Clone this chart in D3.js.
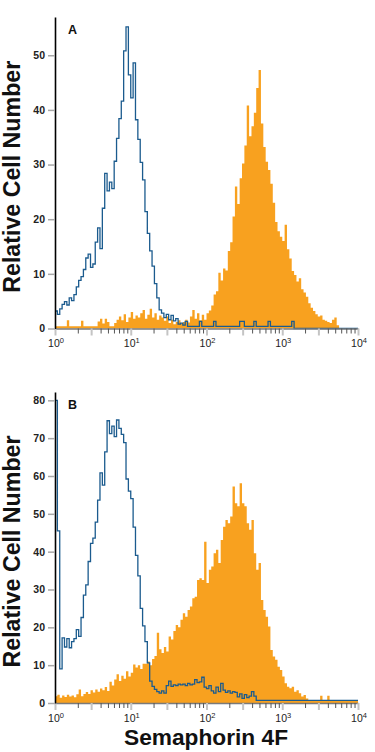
<!doctype html>
<html lang="en">
<head>
<meta charset="UTF-8">
<title>Semaphorin 4F</title>
<style>
  body { margin: 0; background: #fff; }
  svg text { font-family: "Liberation Sans", Arial, sans-serif; }
  .y.axis path.domain { stroke: #000; stroke-width: 1.6px; }
  .y.axis .tick line { stroke: #a8a8a8; stroke-width: 1.5px; }
  .y.axis .tick text { font-size: 10.5px; font-weight: bold; fill: #222; }
  .x.axis path.domain { stroke: #7a7a7a; stroke-width: 1.5px; }
  .x.axis .tick line { stroke: #555; stroke-width: 1px; }
  .x.axis .tick.major line { stroke: #c4c4c4; stroke-width: 2px; }
  .xlabel { font-size: 10.5px; fill: #222; }
  .sample { fill: #f8a11f; stroke: none; }
  .control { fill: none; stroke: #1b5b8e; stroke-width: 1.3px; }
  .title { font-size: 22px; font-weight: bold; fill: #111; }
  .ytitle { font-size: 23px; font-weight: bold; fill: #111; }
  .panel-label { font-size: 12.5px; font-weight: bold; fill: #111; }
</style>
</head>
<body>
<script src="https://d3js.org/d3.v7.min.js"></script>
<script>
var width = 375, height = 752;

// histogram bins: 32 per decade, 10^0 .. 10^4
var binsPerDecade = 32;
var decades = [1, 10, 100, 1000, 10000];
var decadeExp = ["0", "1", "2", "3", "4"];
var yTicksA = [0, 10, 20, 30, 40, 50];
var yTicksB = [0, 10, 20, 30, 40, 50, 60, 70, 80];
var panelNames = ["A", "B"];
var yTitle = "Relative Cell Number";
var xTitle = "Semaphorin 4F";

// panel A, isotype control (blue outline)
var controlA = [
  3.2, 2.6, 3.6, 4.4, 4.9, 4.3, 5.6, 5.1, 6.2, 7.6,
  8.8, 9.5, 10.8, 12.9, 13.6, 11.2, 11.8, 15.8, 18.4, 14.6,
  22.0, 28.4, 25.2, 26.8, 25.6, 30.6, 34.8, 38.4, 41.6, 50.8,
  55.2, 46.4, 42.2, 48.6, 38.2, 34.6, 30.4, 27.2, 21.4, 17.4,
  14.2, 11.4, 8.2, 5.6, 3.4, 2.8, 2.0, 2.6, 1.6, 2.4,
  1.4, 1.8, 0.8, 1.0, 0.6, 1.3, 0.4, 0.4, 0.4, 0.4,
  0.4, 1.3, 0.4, 0.4, 0.4, 0.4, 0.4, 1.3, 0.4, 0.4,
  0.4, 0.4, 0.4, 0.4, 0.4, 0.4, 0.4, 0.4, 1.3, 1.3,
  0.4, 0.4, 0.4, 0.4, 1.3, 0.4, 0.4, 0.4, 0.4, 0.4,
  1.3, 0.4, 0.4, 0.4, 0.4, 0.4, 0.4, 0.4, 0.4, 0.4,
  1.3, 0, 0, 0, 0, 0, 0, 0, 0, 0,
  0, 0, 0, 0, 0, 0, 0, 0, 0, 0,
  0, 0, 0, 0, 0, 0, 0, 0
];

// panel A, Semaphorin 4F stained (orange fill)
var sampleA = [
  0.4, 0.4, 0.4, 0.4, 0.4, 1.5, 0.4, 0.4, 0.4, 0.4,
  0.4, 1.4, 0.4, 0.4, 0.4, 0.4, 0.4, 0.4, 1.3, 1.8,
  0.9, 1.8, 1.2, 0.4, 0.4, 1.0, 1.6, 2.2, 1.5, 2.6,
  1.2, 2.0, 3.0, 1.8, 2.4, 2.0, 2.8, 3.4, 1.8, 2.5,
  3.6, 2.0, 2.8, 1.6, 2.4, 2.0, 1.4, 2.2, 1.0, 1.6,
  0.8, 1.2, 1.5, 0.9, 1.2, 1.6, 1.1, 2.2, 3.4, 1.8,
  2.8, 1.5, 2.5, 1.6, 2.8, 3.3, 4.2, 6.2, 6.8, 10.2,
  8.8, 11.0, 10.6, 14.2, 15.8, 20.5, 26.0, 22.8, 27.5, 30.2,
  33.5, 40.8, 35.2, 37.0, 39.5, 44.0, 47.3, 37.5, 33.2, 30.5,
  29.0, 26.5, 23.0, 19.5, 17.8, 16.8, 16.0, 19.0, 14.5, 12.8,
  10.5, 9.8, 8.6, 9.2, 7.2, 6.6, 5.8, 4.6, 3.8, 3.2,
  2.6, 2.2, 2.4, 1.6, 1.4, 1.2, 1.0, 1.6, 2.0, 0.6,
  0, 0, 0, 0, 0, 0, 0, 0
];

// panel B, isotype control (blue outline)
var controlB = [
  80, 45.5, 9.0, 17.2, 14.8, 17.0, 14.6, 16.2, 17.0, 19.4,
  17.6, 22.6, 28.5, 31.2, 37.4, 42.2, 43.6, 47.8, 53.6, 60.8,
  57.6, 66.4, 74.6, 71.2, 73.2, 70.4, 74.8, 72.6, 71.0, 68.8,
  59.2, 56.0, 54.0, 46.5, 39.0, 33.6, 25.0, 20.4, 16.2, 10.6,
  5.8, 4.4, 3.6, 3.0, 2.6, 3.2, 2.6, 4.6, 5.8, 4.4,
  4.8, 4.6, 5.0, 4.8, 5.0, 4.6, 5.2, 4.8, 5.0, 6.2,
  5.4, 5.6, 6.8, 4.2, 3.8, 4.6, 3.2, 2.6, 4.2, 3.0,
  5.2, 3.4, 2.8, 3.2, 2.6, 3.0, 2.8, 1.6, 2.4, 1.2,
  2.2, 1.4, 1.8, 3.0, 1.8, 0.7, 0.7, 0.7, 0.7, 0.7,
  0.7, 0.7, 0.7, 0.7, 0.7, 0.7, 0.7, 0.7, 0.7, 0.7,
  0.7, 0.7, 0.7, 0.7, 0.7, 0.7, 0.7, 0.7, 0.7, 0.7,
  0.7, 0.7, 0.7, 0.7, 0.7, 0.7, 0.7, 0.7, 0.7, 0.7,
  0.7, 0.7, 0.7, 0.7, 0.7, 0.7, 0.7, 0.7
];

// panel B, Semaphorin 4F stained (orange fill)
var sampleB = [
  1.8, 2.2, 1.4, 2.0, 1.6, 2.2, 1.7, 2.0, 1.5, 2.3,
  3.6, 1.8, 2.4, 2.9, 2.4, 3.4, 2.8, 3.6, 3.0, 3.8,
  3.4, 4.2, 3.2, 5.6, 4.6, 6.2, 7.6, 5.8, 7.2, 6.4,
  8.4, 7.0, 8.0, 10.2, 9.4, 10.0, 9.0, 10.4, 10.4, 11.0,
  10.0, 11.6, 12.4, 18.6, 14.2, 13.2, 14.8, 13.6, 17.6, 16.8,
  19.0, 20.6, 20.0, 22.0, 23.7, 22.8, 24.6, 25.5, 27.7, 28.1,
  32.5, 33.0, 32.5, 42.6, 31.7, 35.2, 36.1, 39.6, 40.5, 37.0,
  43.1, 46.6, 48.4, 47.5, 49.3, 57.2, 52.8, 52.0, 58.1, 52.8,
  52.0, 47.5, 45.8, 48.4, 39.6, 35.2, 37.0, 27.2, 24.6, 22.8,
  20.2, 14.0, 12.3, 11.4, 9.6, 8.7, 7.0, 5.2, 4.3, 3.9,
  4.3, 3.0, 3.4, 2.6, 1.7, 2.1, 1.2, 0.8, 0.8, 0.8,
  0.8, 0.8, 1.9, 0.8, 0.8, 1.9, 0.8, 0.8, 0.8, 0.8,
  0.8, 0.8, 0.8, 0.8, 0.8, 0.8, 0.8, 0.8
];

var svg = d3.select("body").append("svg")
    .attr("width", width)
    .attr("height", height);

var xScale = d3.scaleLog()
    .domain([1, 10000])
    .range([55, 358]);

// minor tick positions 1..9 x each decade
var xTickValues = [];
decades.forEach(function(d, i) {
  if (i == decades.length - 1) { xTickValues.push(d); return; }
  for (var k = 1; k < 10; k++) xTickValues.push(d * k);
});

function binEdge(i) {
  return Math.pow(10, i / binsPerDecade);
}

function toSteps(values) {
  var pts = values.map(function(v, i) { return {x: binEdge(i), v: v}; });
  pts.push({x: binEdge(values.length), v: values[values.length - 1]});
  return pts;
}

function drawPanel(p) {
  var yScale = d3.scaleLinear()
      .domain([0, p.yMax])
      .range([p.bottom, p.top]);

  var g = svg.append("g");

  var area = d3.area()
      .curve(d3.curveStepAfter)
      .x(function(d) { return xScale(d.x); })
      .y0(yScale(0))
      .y1(function(d) { return yScale(d.v); });

  var line = d3.line()
      .curve(d3.curveStepAfter)
      .x(function(d) { return xScale(d.x); })
      .y(function(d) { return yScale(d.v); });

  g.append("path")
      .datum(toSteps(p.sample))
      .attr("class", "sample")
      .attr("d", area);

  g.append("path")
      .datum(toSteps(p.control))
      .attr("class", "control")
      .attr("d", line);

  var xAxis = d3.axisBottom(xScale)
      .tickValues(xTickValues)
      .tickFormat("")
      .tickSizeInner(5)
      .tickSizeOuter(0);

  var xg = g.append("g")
      .attr("class", "x axis")
      .attr("transform", "translate(0," + p.bottom + ")")
      .call(xAxis);

  xg.selectAll(".tick")
      .classed("major", function(d) {
        var r = d / Math.pow(10, Math.floor(Math.log10(d) + 1e-9));
        return Math.abs(r - 1) < 1e-6 || Math.abs(r - 3) < 1e-6;
      })
      .select("line")
      .attr("y2", function(d) { return d3.select(this.parentNode).classed("major") ? 7 : 5; });

  var labels = g.selectAll(".xlabel")
      .data(decades)
      .enter().append("text")
      .attr("class", "xlabel")
      .attr("text-anchor", "middle")
      .attr("x", function(d) { return xScale(d) + 1; })
      .attr("y", p.bottom + 18.5);
  labels.append("tspan").text("10");
  labels.append("tspan")
      .attr("dy", -4)
      .attr("font-size", "7.5px")
      .text(function(d, i) { return decadeExp[i]; });

  var yAxis = d3.axisLeft(yScale)
      .tickValues(p.yTicks)
      .tickSizeInner(7)
      .tickSizeOuter(0)
      .tickPadding(3);

  g.append("g")
      .attr("class", "y axis")
      .attr("transform", "translate(55,0)")
      .call(yAxis);

  g.append("text")
      .attr("class", "panel-label")
      .attr("x", 68)
      .attr("y", p.top + 16.5)
      .text(p.name);

  g.append("text")
      .attr("class", "ytitle")
      .attr("transform", "rotate(-90)")
      .attr("x", -(p.top + p.bottom) / 2 - 4)
      .attr("y", 20)
      .attr("text-anchor", "middle")
      .attr("textLength", 232)
      .attr("lengthAdjust", "spacingAndGlyphs")
      .text(yTitle);
}

drawPanel({name: panelNames[0], top: 17, bottom: 328.5, yMax: 57, yTicks: yTicksA,
           control: controlA, sample: sampleA});
drawPanel({name: panelNames[1], top: 392, bottom: 703, yMax: 82.2, yTicks: yTicksB,
           control: controlB, sample: sampleB});

svg.append("text")
    .attr("class", "title")
    .attr("x", 206)
    .attr("y", 744.5)
    .attr("text-anchor", "middle")
    .attr("textLength", 164)
    .attr("lengthAdjust", "spacingAndGlyphs")
    .text(xTitle);
</script>
</body>
</html>
